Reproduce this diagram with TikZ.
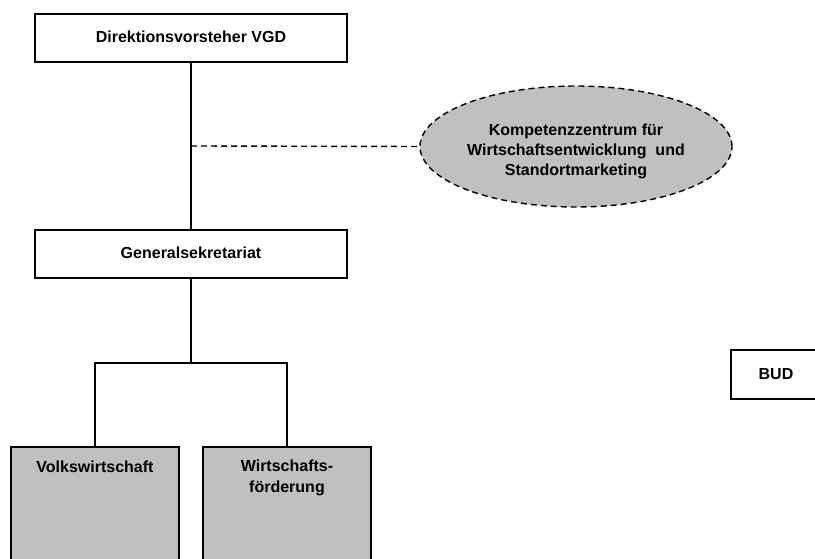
\documentclass[tikz,border=0pt]{standalone}
\usepackage{fontspec}
\setmainfont{Liberation Sans}
\usetikzlibrary{shapes.geometric}
\definecolor{boxgray}{RGB}{192,192,192}
\begin{document}
\begin{tikzpicture}[x=1pt,y=-1pt,
  every node/.style={font=\bfseries\fontsize{16}{20.3}\selectfont, align=center, inner sep=0pt},
  orgbox/.style={draw, line width=1.4pt, fill=white},
  graybox/.style={draw, line width=1.4pt, fill=boxgray},
  dashline/.style={line width=1.4pt, dash pattern=on 6pt off 4pt},
  conn/.style={line width=1.4pt}]
\useasboundingbox (0,0) rectangle (815,559);
\clip (0,0) rectangle (815,559);
\node[orgbox, minimum width=312, minimum height=48] (dir) at (191,38) {\raisebox{2.5pt}{Direktionsvorsteher VGD}};
\node[orgbox, minimum width=312, minimum height=48] (gen) at (191,254) {\raisebox{2.5pt}{Generalsekretariat}};
\node[ellipse, draw, dashline, fill=boxgray, minimum width=312, minimum height=121] (komp) at (576,146.5) {};
\node (kompt) at (576,151.5) {Kompetenzzentrum für\\Wirtschaftsentwicklung\ \ und\\Standortmarketing};
\node[graybox, minimum width=168, minimum height=170] (volk) at (95,532) {};
\node[graybox, minimum width=168, minimum height=170] (wirt) at (287,532) {};
\node[anchor=north] (volkt) at (95,461) {Volkswirtschaft};
\node[anchor=north] (wirtt) at (287,460) {Wirtschafts-\\förderung};
\node[orgbox, minimum width=90, minimum height=49] (bud) at (776,374.5) {\raisebox{2pt}{BUD}};
\coordinate (dj) at (191,146);
\coordinate (br) at (191,363);
\draw[conn] (dir.south) -- (gen.north);
\draw[dashline] (dj) -- (komp.west);
\draw[conn] (gen.south) -- (br);
\draw[conn] (volk.north) |- (br) -| (wirt.north);
\end{tikzpicture}
\end{document}
